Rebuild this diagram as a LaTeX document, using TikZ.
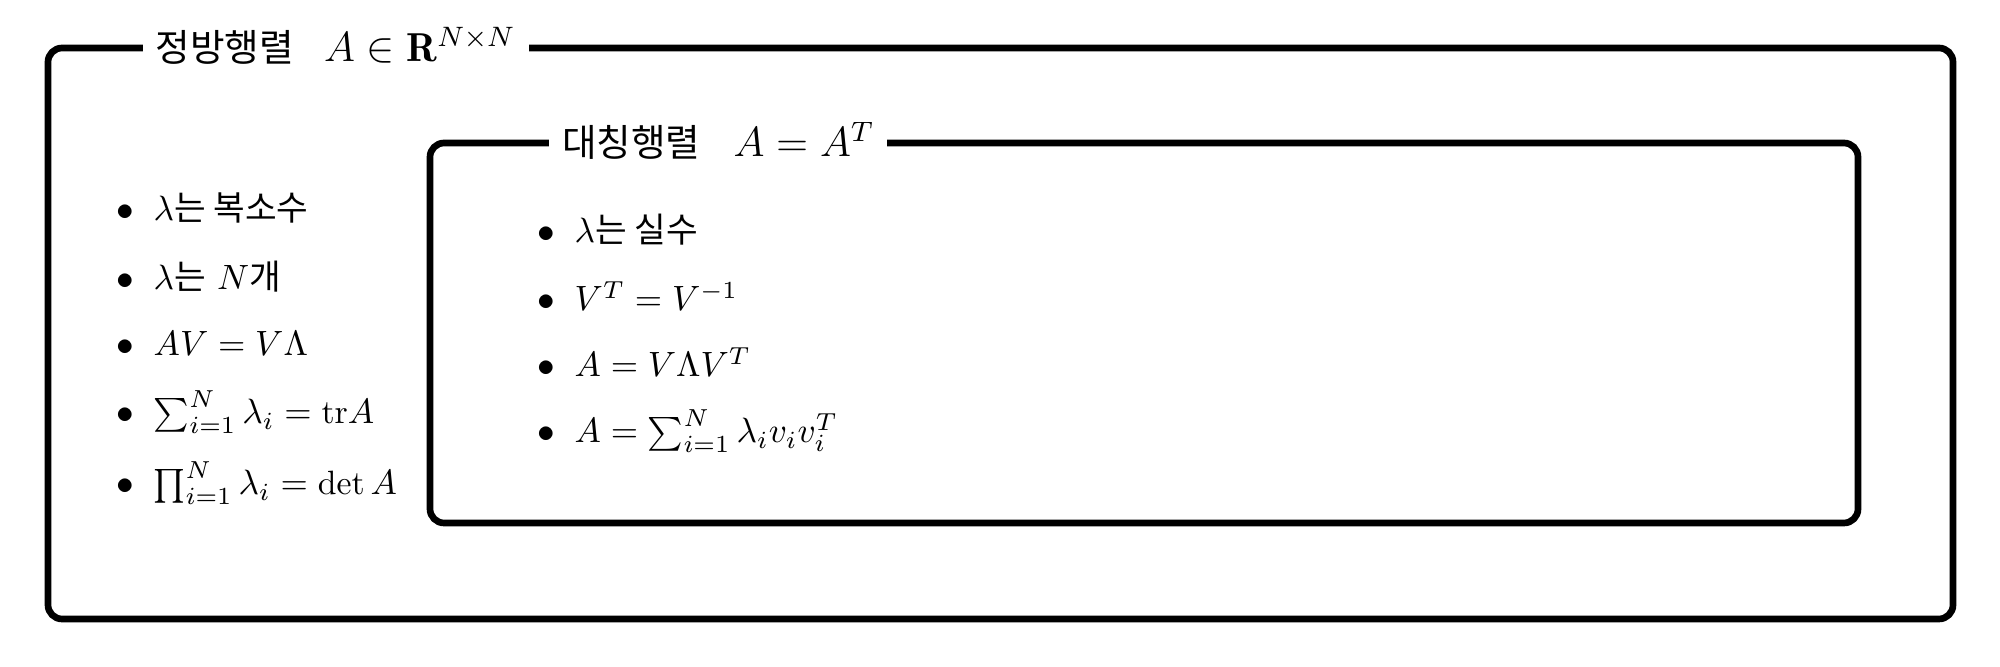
\documentclass[tikz,border=0pt]{standalone}
\usepackage{amsmath,amssymb}
\usepackage{fontspec}
\newfontfamily\kr[Scale=0.93]{Noto Sans CJK KR}
\newfontfamily\krs[Scale=1.02]{Noto Sans CJK KR}
\usepackage{tikz}

\newcommand{\itemfont}{\fontsize{9.6}{11}\selectfont}
\newcommand{\boxfont}{\fontsize{11.5}{14}\selectfont}
\newcommand{\bul}{\makebox[0.37cm][l]{$\bullet$}}

\begin{document}
\begin{tikzpicture}[frame/.style={line width=1.9pt, rounded corners=4pt},
	boxtitle/.style={anchor=west, fill=white, inner xsep=0.13cm, inner ysep=1pt, font=\boxfont},
	fact/.style={anchor=base west, inner sep=0pt, font=\itemfont}]
	\useasboundingbox (0,0) rectangle (20,6.67);
	% the two frames
	\draw[frame] (0.48,0.48) rectangle (19.53,6.19);
	\draw[frame] (4.30,1.44) rectangle (18.58,5.24);
	\node[boxtitle] (square) at (1.42,6.21) {{\kr 정방행렬}\hspace{0.3cm}$A\in\mathbf{R}^{N\times N}$};
	\node[boxtitle] (symm) at (5.485,5.26) {{\kr 대칭행렬}\hspace{0.33cm}$A=A^T$};
	% square matrix facts
	\node[fact] (sq1) at (1.16,4.46) {\bul$\lambda${\krs 는 복소수}};
	\node[fact] (sq2) at (1.16,3.77) {\bul$\lambda${\krs 는} $N${\krs 개}};
	\node[fact] (sq3) at (1.16,3.11) {\bul$AV=V\Lambda$};
	\node[fact] (sq4) at (1.16,2.43) {\bul$\sum_{i=1}^N\lambda_i=\mathrm{tr}A$};
	\node[fact] (sq5) at (1.16,1.72) {\bul$\prod_{i=1}^N\lambda_i=\det A$};
	% symmetric matrix facts
	\node[fact] (sy1) at (5.37,4.24) {\bul$\lambda${\krs 는 실수}};
	\node[fact] (sy2) at (5.37,3.56) {\bul$V^T=V^{-1}$};
	\node[fact] (sy3) at (5.37,2.90) {\bul$A=V\Lambda V^T$};
	\node[fact] (sy4) at (5.37,2.24) {\bul$A=\sum_{i=1}^N\lambda_iv_iv_i^T$};
\end{tikzpicture}
\end{document}
